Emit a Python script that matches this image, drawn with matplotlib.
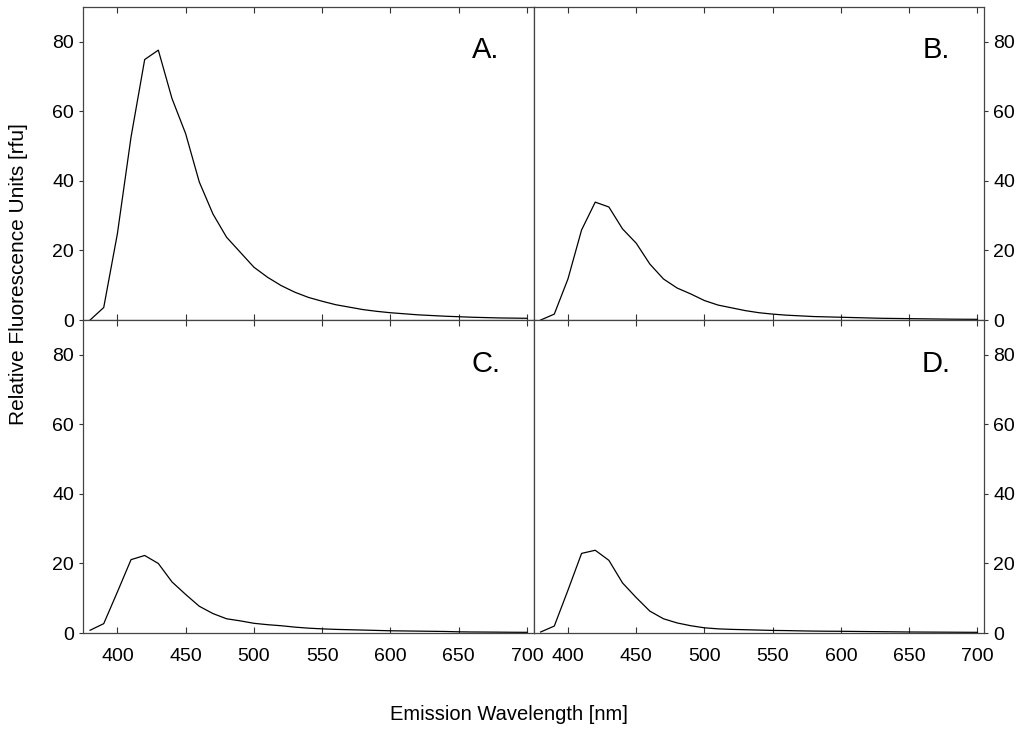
import numpy as np
from matplotlib import pyplot as plt

plt.rcParams['font.family'] = ['Liberation Sans', 'DejaVu Sans']

# emission wavelength, 10 nm steps
wavelength = np.arange(380, 701, 10)

spectrum_a = [0.0, 3.6, 24.8, 52.6, 74.9, 77.6, 63.7, 53.6, 39.7, 30.5, 23.8,
              19.5, 15.2, 12.3, 9.9, 8.0, 6.5, 5.4, 4.4, 3.7, 3.0, 2.5, 2.1,
              1.8, 1.5, 1.3, 1.1, 0.95, 0.8, 0.7, 0.6, 0.55, 0.5]
spectrum_b = [0.0, 1.7, 11.8, 25.9, 33.9, 32.5, 26.2, 22.1, 16.1, 11.8, 9.2,
              7.5, 5.6, 4.3, 3.5, 2.7, 2.1, 1.7, 1.4, 1.2, 1.0, 0.9, 0.8,
              0.7, 0.6, 0.5, 0.45, 0.4, 0.35, 0.3, 0.25, 0.22, 0.2]
spectrum_c = [0.8, 2.7, 11.8, 21.1, 22.3, 20.0, 14.7, 11.1, 7.7, 5.6, 4.1,
              3.5, 2.8, 2.4, 2.1, 1.7, 1.4, 1.2, 1.05, 0.95, 0.85, 0.75, 0.65,
              0.6, 0.55, 0.5, 0.45, 0.35, 0.3, 0.28, 0.25, 0.22, 0.2]
spectrum_d = [0.3, 2.0, 12.3, 22.9, 23.8, 20.9, 14.4, 10.2, 6.3, 4.1, 2.9,
              2.1, 1.5, 1.2, 1.05, 0.95, 0.85, 0.75, 0.7, 0.62, 0.56, 0.52, 0.5,
              0.46, 0.42, 0.38, 0.34, 0.3, 0.28, 0.26, 0.24, 0.22, 0.2]

panel_labels = ['A.', 'B.', 'C.', 'D.']
x_ticks = [400, 450, 500, 550, 600, 650, 700]
y_ticks = [0, 20, 40, 60, 80]

fig = plt.figure(figsize=(10.24, 7.32), dpi=100)

w, h = 0.4399, 0.4276
positions = [
    [0.0813, 0.5628, w, h],
    [0.5213, 0.5628, w, h],
    [0.0813, 0.1352, w, h],
    [0.5213, 0.1352, w, h],
]
spectra = [spectrum_a, spectrum_b, spectrum_c, spectrum_d]

for i, (pos, spec, lab) in enumerate(zip(positions, spectra, panel_labels)):
    ax = fig.add_axes(pos)
    ax.plot(wavelength, spec, color='black', lw=0.9)
    ax.set_xlim(375, 705)
    ax.set_ylim(0, 90)
    ax.set_xticks(x_ticks)
    ax.set_yticks(y_ticks)
    for sp in ax.spines.values():
        sp.set_color('#444444')
        sp.set_linewidth(0.9)

    right = i % 2 == 1
    bottom = i >= 2
    ax.tick_params(axis='x', direction='in', top=True, bottom=True,
                   length=4, width=0.8, color='#333333',
                   labelbottom=bottom, labelsize=14, pad=11)
    ax.tick_params(axis='y', direction='out', length=3, width=0.8,
                   color='#333333', left=not right, right=right,
                   labelleft=not right, labelright=right, labelsize=14)
    ax.text(670, 77.5, lab, fontsize=21, ha='center', va='center')

fig.text(0.497, 0.024, 'Emission Wavelength [nm]', fontsize=14.5,
         ha='center', va='center')
fig.text(0.018, 0.626, 'Relative Fluorescence Units [rfu]', fontsize=15,
         ha='center', va='center', rotation=90)

fig.savefig('out.png', dpi=100)
